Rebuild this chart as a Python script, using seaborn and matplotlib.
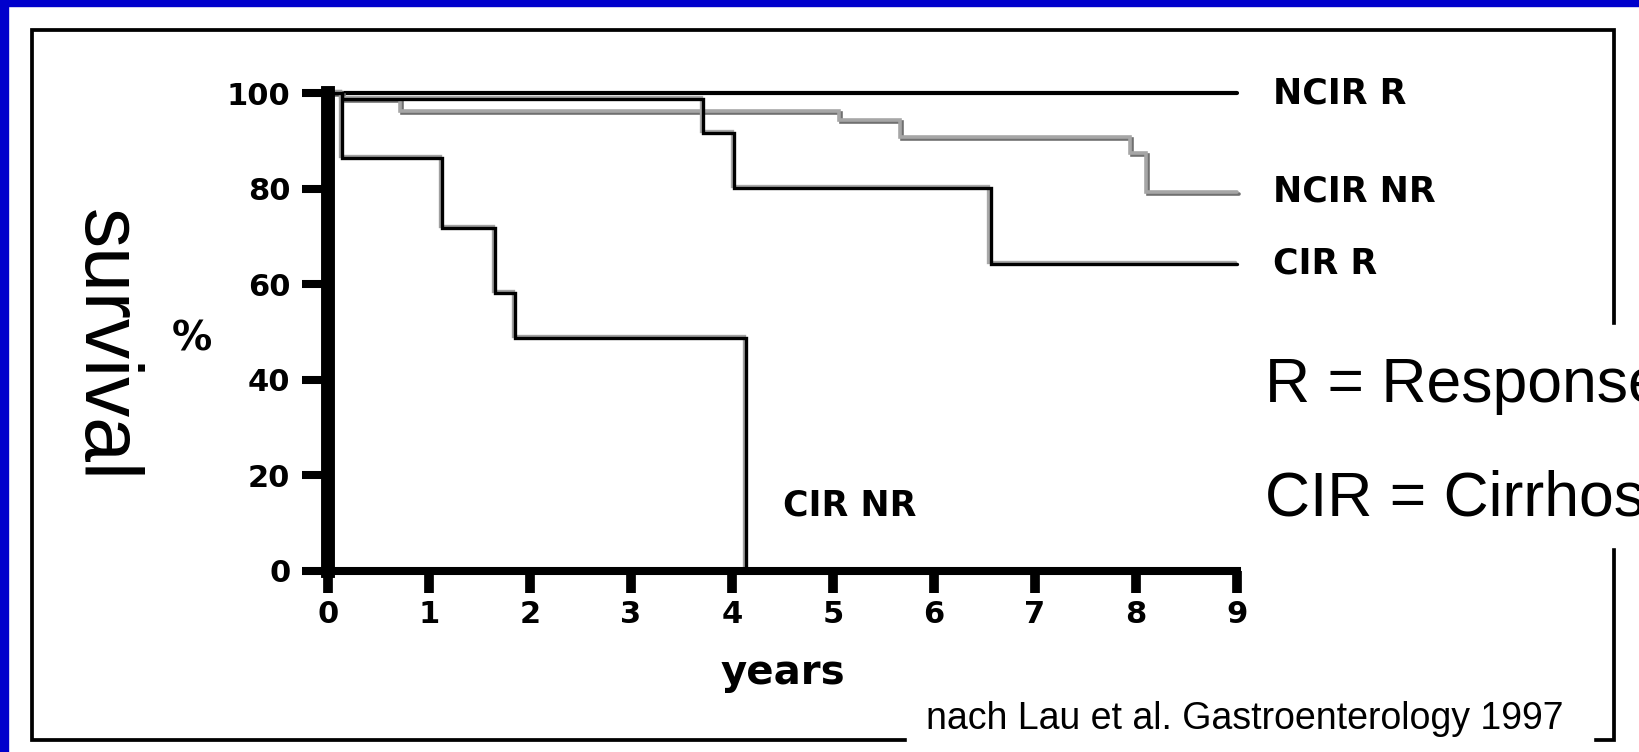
import pandas as pd
import seaborn as sns
import matplotlib.pyplot as plt
import matplotlib.patheffects as pe
from matplotlib.patches import Rectangle

# Kaplan-Meier curves (years, % survival)
ncir_r_t = [0, 9]
ncir_r_s = [100, 100]
ncir_nr_t = [0, 0.14, 0.71, 5.06, 5.66, 7.94, 8.10, 9]
ncir_nr_s = [100, 98.7, 96.2, 94.4, 90.8, 87.4, 79.3, 79.3]
cir_r_t = [0, 0.14, 3.71, 4.02, 6.56, 9]
cir_r_s = [100, 98.7, 91.6, 80.2, 64.3, 64.3]
cir_nr_t = [0, 0.14, 1.13, 1.65, 1.85, 4.14]
cir_nr_s = [100, 86.4, 71.8, 58.2, 48.7, 0]

groups = ['NCIR R', 'NCIR NR', 'CIR R', 'CIR NR']
x_ticks = list(range(10))
y_ticks = [0, 20, 40, 60, 80, 100]

legend_lines = ['R = Response', 'CIR = Cirrhosis']
source = 'nach Lau et al. Gastroenterology 1997'

frames = []
for g, t, s in zip(groups, [ncir_r_t, ncir_nr_t, cir_r_t, cir_nr_t],
                   [ncir_r_s, ncir_nr_s, cir_r_s, cir_nr_s]):
    frames.append(pd.DataFrame({'years': t, 'survival': s, 'group': g}))
df = pd.concat(frames, ignore_index=True)

sns.set_theme(style='white')
plt.rcParams['font.family'] = ['DejaVu Sans']
plt.rcParams['text.color'] = 'black'

fig = plt.figure(figsize=(16.39, 7.52), dpi=100)
fig.patch.set_facecolor('white')
ax = fig.add_axes([0.2001, 0.2407, 0.5546, 0.6356])

# line looks: scanned slide, curves doubled with a grey shadow
styles = {
    'NCIR R': dict(color='black', width=3.0, fx=None),
    'NCIR NR': dict(color='#a6a6a6', width=2.6,
                    fx=[pe.SimpleLineShadow(offset=(1.5, -1.5), shadow_color='#707070', alpha=1), pe.Normal()]),
    'CIR R': dict(color='black', width=2.4,
                  fx=[pe.SimpleLineShadow(offset=(-1.5, 1.5), shadow_color='#a8a8a8', alpha=1), pe.Normal()]),
    'CIR NR': dict(color='black', width=2.4,
                   fx=[pe.SimpleLineShadow(offset=(-1.5, 1.5), shadow_color='#a0a0a0', alpha=1), pe.Normal()]),
}

for g in groups:
    st = styles[g]
    sns.lineplot(data=df[df['group'] == g], x='years', y='survival', ax=ax,
                 drawstyle='steps-post', estimator=None, errorbar=None, sort=False,
                 color=st['color'], legend=False)
    line = ax.get_lines()[-1]
    line.set_linewidth(st['width'])
    line.set_solid_joinstyle('miter')
    line.set_clip_on(False)
    if st['fx']:
        line.set_path_effects(st['fx'])

ax.set_xlim(0, 9)
ax.set_ylim(0, 100)
for side in ['top', 'right']:
    ax.spines[side].set_visible(False)
ax.spines['left'].set_linewidth(10)
ax.spines['bottom'].set_linewidth(5.8)
ax.spines['left'].set_color('black')
ax.spines['bottom'].set_color('black')

ax.set_xticks(x_ticks)
ax.set_xticklabels([str(v) for v in x_ticks], fontweight='bold')
ax.set_yticks(y_ticks)
ax.set_yticklabels([str(v) for v in y_ticks], fontweight='bold')
ax.tick_params(axis='y', length=19, width=5.8, pad=8, labelsize=22, colors='black', left=True, direction='out')
ax.tick_params(axis='x', length=16, width=7, pad=5, labelsize=22, colors='black', bottom=True, direction='out')

ax.set_xlabel('years', fontsize=29, fontweight='bold', color='black', labelpad=17)
ax.set_ylabel('%', fontsize=29, fontweight='bold', color='black', rotation=0)
ax.yaxis.set_label_coords(-0.1496, 0.485)
ax.yaxis.label.set_ha('center')
ax.yaxis.label.set_va('center')

# curve labels at the right end of each line
for g, t, s in zip(groups[:3], [ncir_r_t, ncir_nr_t, cir_r_t], [ncir_r_s, ncir_nr_s, cir_r_s]):
    ax.annotate(g, xy=(t[-1], s[-1]), xytext=(26, 0), textcoords='offset points',
                va='center', ha='left', fontsize=25, fontweight='bold', color='black',
                annotation_clip=False)
ax.text(4.51, 13.6, groups[3], va='center', ha='left', fontsize=25, fontweight='bold', color='black')

# slide decoration: blue edge, black frame, white boxes behind the texts
fig.patches.append(Rectangle((0, 1 - 6 / 752), 1, 6 / 752, transform=fig.transFigure,
                             color='#0000cc', zorder=1))
fig.patches.append(Rectangle((0, 0), 8 / 1639, 1, transform=fig.transFigure,
                             color='#0000cc', zorder=1))
fig.patches.append(Rectangle((31.5 / 1639, 12 / 752), (1614 - 31.5) / 1639, (740 - 29.5) / 752,
                             transform=fig.transFigure, fill=False, ec='black', lw=2.7, zorder=1))
fig.patches.append(Rectangle((1250 / 1639, 205 / 752), 389 / 1639, 222 / 752,
                             transform=fig.transFigure, color='white', zorder=2))
fig.patches.append(Rectangle((907 / 1639, 0), 686 / 1639, 62 / 752,
                             transform=fig.transFigure, color='white', zorder=2))

sans = ['Liberation Sans', 'DejaVu Sans']
fig.text(104 / 1639, 1 - 345 / 752, 'survival', rotation=-90, ha='center', va='center',
         fontsize=58, family=sans, color='black', zorder=3)
fig.text(1265 / 1639, 1 - 402 / 752, legend_lines[0], fontsize=45, family=sans,
         ha='left', va='baseline', color='black', zorder=3)
fig.text(1265 / 1639, 1 - 515 / 752, legend_lines[1], fontsize=45, family=sans,
         ha='left', va='baseline', color='black', zorder=3)
fig.text(926 / 1639, 1 - 729 / 752, source, fontsize=27, family=sans,
         ha='left', va='baseline', color='black', zorder=3)

fig.savefig('out.png', dpi=100)
